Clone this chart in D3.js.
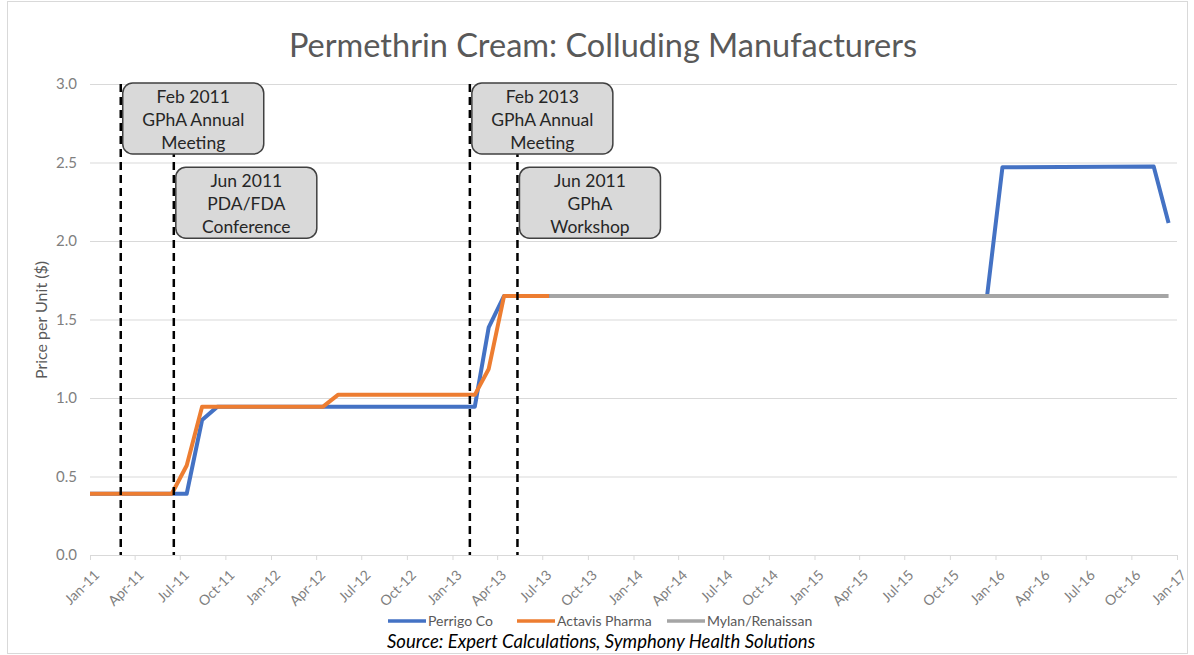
<!DOCTYPE html>
<html>
<head>
<meta charset="utf-8">
<script src="https://cdn.jsdelivr.net/npm/d3@7"></script>
<style>
  body { margin: 0; background: #fff; }
  svg { font-family: Lato, "Open Sans", sans-serif; }
</style>
</head>
<body>
<svg width="1194" height="655"></svg>
<script>
// series (breakpoints of each price line)
let perrigoDates = ["2011-01-01", "2011-07-15", "2011-08-15", "2011-09-15", "2013-02-15", "2013-03-15",
  "2013-04-15", "2015-12-15", "2016-01-15", "2016-11-15", "2016-12-15"];
let perrigoValues = [0.39, 0.39, 0.86, 0.945, 0.945, 1.45, 1.65, 1.65, 2.47, 2.475, 2.115];

let actavisDates = ["2011-01-01", "2011-06-15", "2011-07-15", "2011-08-15", "2012-04-15", "2012-05-15",
  "2013-02-15", "2013-03-15", "2013-04-15", "2013-07-15"];
let actavisValues = [0.39, 0.39, 0.57, 0.945, 0.945, 1.02, 1.02, 1.185, 1.65, 1.65];

let mylanDates = ["2013-07-15", "2016-12-15"];
let mylanValues = [1.65, 1.65];

let seriesNames = ["Perrigo Co", "Actavis Pharma", "Mylan/Renaissan"];
let seriesColors = ["#4472c4", "#ed7d31", "#a5a5a5"];

let eventDates = ["2011-03-04", "2011-06-19", "2013-02-05", "2013-05-12"];
let eventLabels = [
  ["Feb 2011", "GPhA Annual", "Meeting"],
  ["Jun 2011", "PDA/FDA", "Conference"],
  ["Feb 2013", "GPhA Annual", "Meeting"],
  ["Jun 2011", "GPhA", "Workshop"]
];

let yTicks = [0, 0.5, 1.0, 1.5, 2.0, 2.5, 3.0];

let parseDate = d3.timeParse("%Y-%m-%d");

let svg = d3.select("svg");

// chart frame
svg.append("rect")
  .attr("x", 7.5).attr("y", 1.5)
  .attr("width", 1180).attr("height", 652)
  .attr("fill", "none")
  .attr("stroke", "#d9d9d9");

let x = d3.scaleTime()
  .domain([parseDate("2011-01-01"), parseDate("2017-01-01")])
  .range([90, 1177]);
let y = d3.scaleLinear().domain([0, 3]).range([555, 84]);

// title
svg.append("text")
  .attr("x", 603).attr("y", 57)
  .attr("text-anchor", "middle")
  .attr("font-size", 32.5)
  .attr("fill", "#595959")
  .text("Permethrin Cream: Colluding Manufacturers");

// gridlines + y labels
let yAxis = svg.append("g")
  .attr("transform", "translate(90,0)")
  .call(d3.axisLeft(y).tickValues(yTicks).tickFormat(d3.format(".1f"))
    .tickSize(-1087).tickPadding(13));
yAxis.select(".domain").remove();
yAxis.selectAll(".tick line").attr("stroke", "#d9d9d9");
yAxis.selectAll(".tick text")
  .attr("fill", "#7f7f7f")
  .attr("font-size", 15)
  .attr("font-family", "Lato, sans-serif");

svg.append("text")
  .attr("transform", "translate(47,320) rotate(-90)")
  .attr("text-anchor", "middle")
  .attr("font-size", 16)
  .attr("fill", "#595959")
  .text("Price per Unit ($)");

// x axis
let xAxis = svg.append("g")
  .attr("transform", "translate(0,555)")
  .call(d3.axisBottom(x).ticks(d3.timeMonth.every(3))
    .tickFormat(d3.timeFormat("%b-%y")).tickSizeOuter(0).tickSize(5));
xAxis.select(".domain").attr("stroke", "#d9d9d9");
xAxis.selectAll(".tick line").attr("stroke", "#d9d9d9");
xAxis.selectAll(".tick text")
  .attr("fill", "#7f7f7f")
  .attr("font-size", 14)
  .attr("font-family", "Lato, sans-serif")
  .attr("text-anchor", "end")
  .attr("transform", "translate(2,9) rotate(-45)")
  .attr("dy", "0.35em")
  .attr("y", 9)
  .attr("x", -3);

// price lines
let line = d3.line()
  .x(d => x(d.date))
  .y(d => y(d.value));

let toPoints = function(dates, values) {
  return dates.map((d, i) => ({ date: parseDate(d), value: values[i] }));
};
let series = [
  toPoints(perrigoDates, perrigoValues),
  toPoints(actavisDates, actavisValues),
  toPoints(mylanDates, mylanValues)
];

svg.selectAll("path.price").data(series).enter().append("path")
  .attr("class", "price")
  .attr("d", line)
  .attr("fill", "none")
  .attr("stroke", (d, i) => seriesColors[i])
  .attr("stroke-width", 4)
  .attr("stroke-linejoin", "round");

// event dashed lines
svg.selectAll("line.event").data(eventDates).enter().append("line")
  .attr("class", "event")
  .attr("x1", d => x(parseDate(d)))
  .attr("x2", d => x(parseDate(d)))
  .attr("y1", y(3))
  .attr("y2", y(0))
  .attr("stroke", "#000")
  .attr("stroke-width", 2.5)
  .attr("stroke-dasharray", "8,5");

// event boxes
let boxes = svg.selectAll("g.box").data(eventDates).enter().append("g")
  .attr("class", "box")
  .attr("transform", (d, i) => {
    let top = i % 2 === 0 ? y(3) - 1 : y(2.47);
    return "translate(" + (x(parseDate(d)) + 2) + "," + top + ")";
  });

boxes.append("rect")
  .attr("width", 141).attr("height", 71)
  .attr("rx", 10).attr("ry", 10)
  .attr("fill", "#d9d9d9")
  .attr("stroke", "#404040")
  .attr("stroke-width", 1.5);

boxes.each(function(d, i) {
  let g = d3.select(this);
  eventLabels[i].forEach((txt, j) => {
    g.append("text")
      .attr("x", 70.5)
      .attr("y", 20 + j * 23)
      .attr("text-anchor", "middle")
      .attr("font-size", 17.5)
      .attr("fill", "#262626")
      .text(txt);
  });
});

// legend
let legendX = [388, 517, 667];
let legend = svg.selectAll("g.legend").data(seriesNames).enter().append("g")
  .attr("class", "legend")
  .attr("transform", (d, i) => "translate(" + legendX[i] + ",621)");
legend.append("line")
  .attr("x1", 0).attr("x2", 38)
  .attr("stroke", (d, i) => seriesColors[i])
  .attr("stroke-width", 3.5);
legend.append("text")
  .attr("x", 40).attr("dy", "0.35em")
  .attr("font-size", 14)
  .attr("fill", "#595959")
  .text(d => d);

// source note
svg.append("text")
  .attr("x", 601).attr("y", 648)
  .attr("text-anchor", "middle")
  .attr("font-size", 18.5)
  .attr("font-style", "italic")
  .attr("fill", "#000")
  .text("Source: Expert Calculations, Symphony Health Solutions");
</script>
</body>
</html>
